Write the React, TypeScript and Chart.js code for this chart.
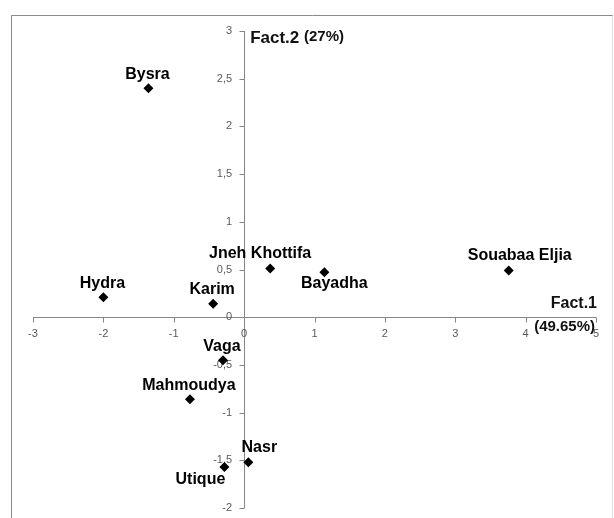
import React, { useEffect, useRef } from "react";
import { Chart, registerables } from "chart.js";

Chart.register(...registerables);

const labels = ["Bysra", "Hydra", "Karim", "Jneh Khottifa", "Bayadha", "Souabaa Eljia", "Vaga", "Mahmoudya", "Nasr", "Utique"];
const fact1 = [-1.36, -2.0, -0.44, 0.37, 1.14, 3.76, -0.3, -0.77, 0.06, -0.28];
const fact2 = [2.4, 0.21, 0.14, 0.51, 0.47, 0.49, -0.45, -0.86, -1.52, -1.57];
// label placement relative to the marker
const labelPlace = ["above", "above", "above", "above-left", "below-right", "above-right", "above", "above", "above-right", "below-left"];
const xTicks = [-3, -2, -1, 0, 1, 2, 3, 4, 5];
const yTicks = [-2, -1.5, -1, -0.5, 0, 0.5, 1, 1.5, 2, 2.5, 3];

const placeOffset: Record<string, [number, number]> = {
  above: [-1, -14],
  "above-left": [-10, -15],
  "below-right": [10, 11],
  "above-right": [11, -15],
  "below-left": [-24, 13],
};

const fmt = (v: number) => String(v).replace(".", ",");

const overlay = {
  id: "overlay",
  beforeDatasetsDraw(chart: any) {
    const { ctx } = chart;
    const xs = chart.scales.x;
    const ys = chart.scales.y;
    const x0 = xs.getPixelForValue(0);
    const y0 = ys.getPixelForValue(0);
    ctx.save();
    // frame
    ctx.strokeStyle = "#8a8a8a";
    ctx.lineWidth = 1;
    ctx.beginPath();
    ctx.moveTo(11.5, 518);
    ctx.lineTo(11.5, 15.5);
    ctx.lineTo(613, 15.5);
    ctx.stroke();
    ctx.strokeStyle = "#e4e4e4";
    ctx.beginPath();
    ctx.moveTo(612.5, 15.5);
    ctx.lineTo(612.5, 518);
    ctx.stroke();
    // axes
    ctx.strokeStyle = "#868686";
    ctx.beginPath();
    const yl = Math.round(y0) + 0.5;
    const xl = Math.round(x0) + 0.5;
    ctx.moveTo(xs.getPixelForValue(xTicks[0]), yl);
    ctx.lineTo(xs.getPixelForValue(xTicks[xTicks.length - 1]), yl);
    ctx.moveTo(xl, ys.getPixelForValue(yTicks[0]));
    ctx.lineTo(xl, ys.getPixelForValue(yTicks[yTicks.length - 1]));
    xTicks.forEach((t) => {
      const px = Math.round(xs.getPixelForValue(t)) + 0.5;
      ctx.moveTo(px, yl);
      ctx.lineTo(px, yl + 5);
    });
    yTicks.forEach((t) => {
      const py = Math.round(ys.getPixelForValue(t)) + 0.5;
      ctx.moveTo(xl, py);
      ctx.lineTo(xl - 5, py);
    });
    ctx.stroke();
    // tick labels
    ctx.fillStyle = "#595959";
    ctx.font = '11px "Liberation Sans", Arial, sans-serif';
    ctx.textAlign = "center";
    ctx.textBaseline = "middle";
    xTicks.forEach((t) => {
      ctx.fillText(fmt(t), xs.getPixelForValue(t), y0 + 17);
    });
    ctx.textAlign = "right";
    yTicks.forEach((t) => {
      ctx.fillText(fmt(t), x0 - 12, ys.getPixelForValue(t));
    });
    // axis titles
    ctx.fillStyle = "#111";
    ctx.textAlign = "left";
    ctx.font = 'bold 17px "Liberation Sans", Arial, sans-serif';
    ctx.fillText("Fact.2", x0 + 6, 38);
    const w = ctx.measureText("Fact.2 ").width;
    ctx.font = 'bold 15px "Liberation Sans", Arial, sans-serif';
    ctx.fillText("(27%)", x0 + 6 + w, 37);
    ctx.textAlign = "right";
    ctx.font = 'bold 16px "Liberation Sans", Arial, sans-serif';
    ctx.fillText("Fact.1", 597, y0 - 14);
    ctx.font = 'bold 15px "Liberation Sans", Arial, sans-serif';
    ctx.fillText("(49.65%)", 595, y0 + 10);
    ctx.restore();
  },
  afterDatasetsDraw(chart: any) {
    const { ctx } = chart;
    const meta = chart.getDatasetMeta(0);
    ctx.save();
    ctx.fillStyle = "#000";
    ctx.font = 'bold 16px "Liberation Sans", Arial, sans-serif';
    ctx.textAlign = "center";
    ctx.textBaseline = "middle";
    meta.data.forEach((pt: any, i: number) => {
      const [dx, dy] = placeOffset[labelPlace[i]];
      ctx.fillText(labels[i], pt.x + dx, pt.y + dy);
    });
    ctx.restore();
  },
};

export default function App() {
  const ref = useRef<HTMLCanvasElement | null>(null);
  useEffect(() => {
    if (!ref.current) return;
    const chart = new Chart(ref.current, {
      type: "scatter",
      data: {
        datasets: [
          {
            data: fact1.map((x, i) => ({ x, y: fact2[i] })),
            pointStyle: "rectRot",
            pointRadius: 5,
            pointHoverRadius: 5,
            backgroundColor: "#000",
            borderColor: "#000",
            borderWidth: 0,
          },
        ],
      },
      options: {
        responsive: false,
        animation: false,
        layout: { autoPadding: false, padding: { left: 33, right: 18, top: 31, bottom: 10 } },
        plugins: { legend: { display: false }, tooltip: { enabled: false } },
        scales: {
          x: { type: "linear", min: -3, max: 5, display: false },
          y: { type: "linear", min: -2, max: 3, display: false },
        },
      },
      plugins: [overlay],
    });
    return () => chart.destroy();
  }, []);
  return (
    <div style={{ position: "absolute", left: 0, top: 0, width: 614, height: 518, background: "#fff" }}>
      <canvas ref={ref} width={614} height={518} />
    </div>
  );
}
